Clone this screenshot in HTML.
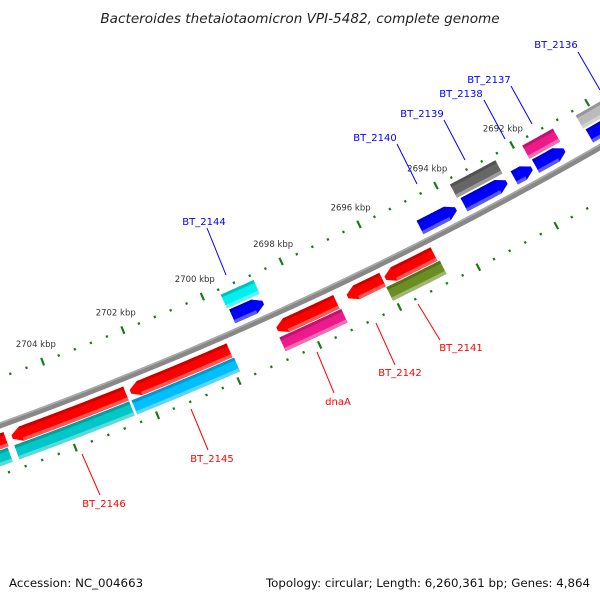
<!DOCTYPE html>
<html><head><meta charset="utf-8"><style>
html,body{margin:0;padding:0;background:#fff}
svg{display:block}
text{font-family:"DejaVu Sans","Liberation Sans",sans-serif}
</style></head><body>
<svg id="map" width="600" height="600" viewBox="0 0 600 600" xmlns="http://www.w3.org/2000/svg">
<text x="300" y="23" text-anchor="middle" font-size="13.6" font-style="italic" fill="#222">Bacteroides thetaiotaomicron VPI-5482, complete genome</text>
<text x="9" y="587" font-size="11.8" fill="#111">Accession: NC_004663</text>
<text x="590" y="587" text-anchor="end" font-size="11.8" fill="#111">Topology: circular; Length: 6,260,361 bp; Genes: 4,864</text>
<g id="layer"></g>
</svg>
<script>
// tick data (kbp)
const tickStart = 2689.6, tickEnd = 2706.4, tickStep = 0.4;
const tickLabels = [2692, 2694, 2696, 2698, 2700, 2702, 2704];
// forward ORFs (ring 1)
const fwdNames = ['BT_2144','BT_2140','BT_2139','BT_2138','BT_2137','BT_2136'];
const fwdStart = [2698.77, 2693.84, 2692.52, 2691.86, 2691.00, 2689.0];
const fwdEnd   = [2699.55, 2694.77, 2693.63, 2692.32, 2691.76, 2690.34];
// forward COG features (ring 2)
const fcogStart = [2698.76, 2692.51, 2690.99, 2689.0];
const fcogEnd   = [2699.59, 2693.70, 2691.80, 2690.38];
const fcogColor = ['#00f0f0','#666666','#ee1a8c','#bbbbbb'];
// reverse ORFs (ring 1)
const revNames = ['left','BT_2146','BT_2145','dnaA','BT_2142','BT_2141'];
const revStart = [2705.41, 2702.48, 2699.92, 2697.24, 2696.07, 2694.76];
const revEnd   = [2706.8, 2705.26, 2702.37, 2698.73, 2696.96, 2696.00];
// reverse COG features (ring 2)
const rcogStart = [2705.44, 2702.48, 2699.89, 2697.21, 2694.71];
const rcogEnd   = [2706.8, 2705.28, 2702.42, 2698.76, 2696.07];
const rcogColor = ['#00c8c8','#00c8c8','#00bfff','#ee1a8c','#6b8e23'];
// callout labels
const calloutText = ['BT_2136','BT_2137','BT_2138','BT_2139','BT_2140','BT_2144','BT_2141','BT_2142','dnaA','BT_2145','BT_2146'];
const calloutColor = ['#00f','#00f','#00f','#00f','#00f','#00f','#f00','#f00','#f00','#f00','#f00'];
const calloutPos = [[556,48,578,52,600,90],[489,83,511,86,532,124],[461,97,484,100,505,139],[422,117,444,120,465,160],[375,141,397,144,417,184],[204,225,207,228,226,275],[461,351,440,340,418,304],[400,376,395,365,376,323],[338,405,334,393,317,352],[212,462,208,450,191,409],[104,507,100,495,82,454]];

const CX=-1283, CY=-3127, RB=3777;
function P(r,pos){const a=(61.25+(pos-2692)*0.662)*Math.PI/180;return [CX+r*Math.cos(a),CY+r*Math.sin(a)];}
const NS='http://www.w3.org/2000/svg';
const layer=document.getElementById('layer');
function mk(tag,attrs){const e=document.createElementNS(NS,tag);for(const k in attrs)e.setAttribute(k,attrs[k]);layer.appendChild(e);return e;}
function arc(r,a,b){const pts=[];const n=30;for(let i=0;i<=n;i++){pts.push(P(r,a+(b-a)*i/n));}return pts;}
function ptsStr(p){return p.map(q=>q[0].toFixed(2)+','+q[1].toFixed(2)).join(' ');}
function shade(c,f){const n=parseInt(c.slice(1),16);let r=n>>16,g=(n>>8)&255,b=n&255;
 if(f>0){r=r+(255-r)*f;g=g+(255-g)*f;b=b+(255-b)*f;}else{r*=1+f;g*=1+f;b*=1+f;}
 return 'rgb('+Math.round(r)+','+Math.round(g)+','+Math.round(b)+')';}
function feature(r,s,e,head,color,name){
 const hw=7.5; const h=head?Math.min(0.22,(e-s)*0.5):0;
 let pts;
 if(head===1){pts=arc(r+hw,e,s+h).concat([P(r+2,s),P(r-2,s)]).concat(arc(r-hw,s+h,e));}
 else if(head===-1){pts=arc(r+hw,s,e-h).concat([P(r+2,e),P(r-2,e)]).concat(arc(r-hw,e-h,s));}
 else{pts=arc(r+hw,s,e).concat(arc(r-hw,e,s));}
 const g=mk('polygon',{points:ptsStr(pts),fill:color});
 
 
 const a0=head===1?s+h:s, a1=head===-1?e-h:e;
 const lt=mk('polygon',{points:ptsStr(arc(r+hw,a0,a1).concat(arc(r+hw-3.5,a1,a0))),fill:shade(color,0.35)});
 
 
 const dk=mk('polygon',{points:ptsStr(arc(r-hw+3,a0,a1).concat(arc(r-hw,a1,a0))),fill:shade(color,-0.2)});
 
 
}
// backbone
const bb=mk('polyline',{points:ptsStr(arc(RB,2689,2707)),fill:'none',stroke:'#888888','stroke-width':6});


const bb2=mk('polyline',{points:ptsStr(arc(RB-2,2689,2707)),fill:'none',stroke:'#aaaaaa','stroke-width':1.5});


// ticks
for(let i=0;tickStart+i*tickStep<=tickEnd+1e-6;i++){
 const p=tickStart+i*tickStep; const major=Math.abs(Math.round(p/2)*2-p)<0.01;
 [3732,3824].forEach((r,k)=>{
  const d=major?4:1.2; const a=P(r-d,p), b=P(r+d,p);
  const t=mk('line',{x1:a[0],y1:a[1],x2:b[0],y2:b[1],stroke:'#1a7a1a','stroke-width':2.2});
  
  
 });
}
tickLabels.forEach(v=>{const q=P(3713,v);
 const t=mk('text',{x:q[0],y:q[1]+3,'text-anchor':'middle','font-size':8.5,fill:'#333'});
 t.textContent=v+' kbp';
 
 
});
fwdStart.forEach((s,i)=>feature(3762,s,fwdEnd[i],1,'#0000ff','orf-'+fwdNames[i]));
fcogStart.forEach((s,i)=>feature(3745,s,fcogEnd[i],0,fcogColor[i],'cog-forward'));
revStart.forEach((s,i)=>feature(3792,s,revEnd[i],-1,'#ff0000','orf-'+revNames[i]));
rcogStart.forEach((s,i)=>feature(3808,s,rcogEnd[i],0,rcogColor[i],'cog-reverse'));
calloutText.forEach((txt,i)=>{const c=calloutPos[i];
 const l=mk('line',{x1:c[2],y1:c[3],x2:c[4],y2:c[5],stroke:calloutColor[i],'stroke-width':1});
 
 
 const t=mk('text',{x:c[0],y:c[1],'text-anchor':'middle','font-size':10,fill:calloutColor[i]});
 t.textContent=txt;
 
 
});
</script>
</body></html>
